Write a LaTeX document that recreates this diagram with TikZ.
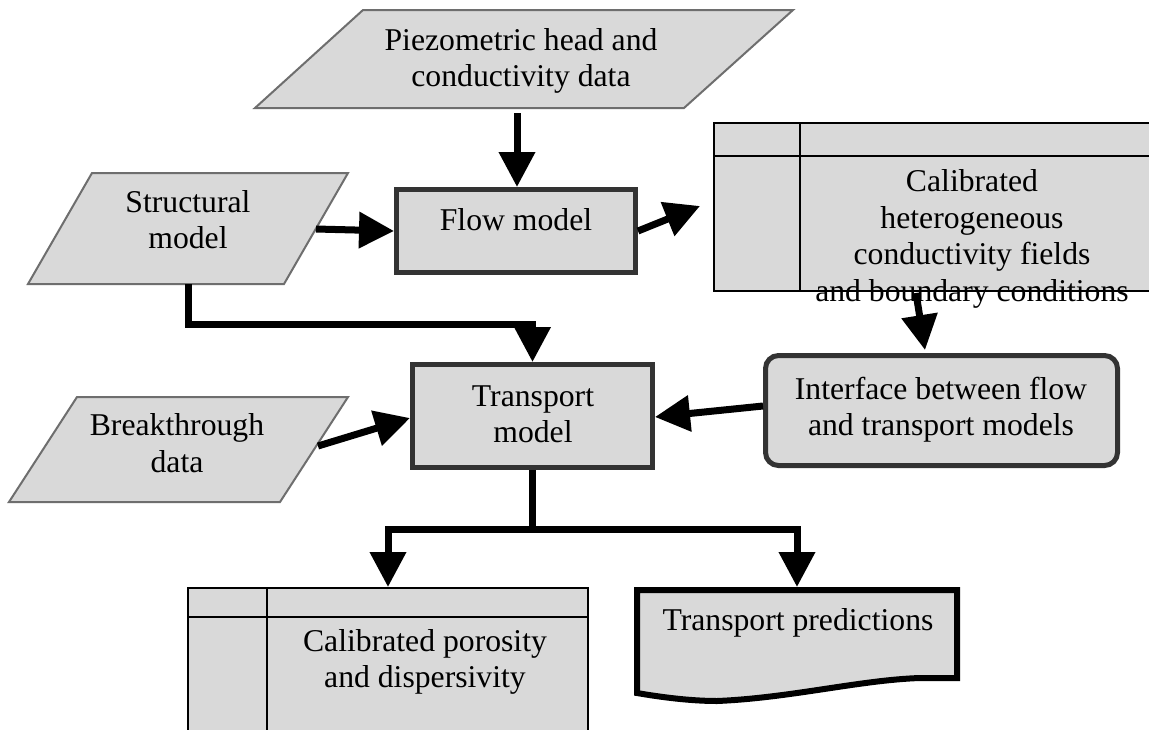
\documentclass[tikz,border=0pt]{standalone}
\usepackage{fontspec}
\setmainfont{Liberation Serif}
\usetikzlibrary{arrows.meta}
\definecolor{fillg}{HTML}{D9D9D9}
\definecolor{parag}{HTML}{6E6E6E}
\definecolor{procg}{HTML}{333333}
\begin{document}
\begin{tikzpicture}[x=1pt,y=-1pt,
  txt/.style={font=\fontsize{31.7pt}{36.6pt}\selectfont, align=center, inner sep=0pt},
  databox/.style={fill=fillg, draw=parag, line width=2pt, line join=miter},
  procbox/.style={rectangle, fill=fillg, draw=procg, line width=5pt, inner sep=0pt},
  tablebox/.style={rectangle, fill=fillg, draw=black, line width=2pt, inner sep=0pt},
  tabline/.style={draw=black, line width=2pt},
  docbox/.style={fill=fillg, draw=black, line width=6pt, line join=miter},
  conn/.style={line width=7pt, line join=miter, -{Triangle[width=35pt,length=35pt]}},
  plain/.style={line width=7pt, line join=miter}
  ]
\clip (0,0) rectangle (1149,729);
\fill[white] (0,0) rectangle (1149,729);

% data parallelograms
\draw[databox] (363,10) -- (793,10) -- (684,108) -- (255,108) -- cycle;
\draw[databox] (92,173) -- (348,173) -- (284,284) -- (28,284) -- cycle;
\draw[databox] (77,397) -- (348,397) -- (280,502) -- (9,502) -- cycle;

% process boxes
\node[procbox, minimum width=239pt, minimum height=83pt] (flow) at (516,231) {};
\node[procbox, minimum width=240pt, minimum height=103pt] (transport) at (532.5,416) {};
\node[procbox, rounded corners=13pt, minimum width=352pt, minimum height=110pt] (interface) at (941.5,410.5) {};

% stored data boxes
\node[tablebox, minimum width=446pt, minimum height=168pt] (calib) at (937,207) {};
\draw[tabline] (714,156) -- (1160,156);
\draw[tabline] (800,123) -- (800,291);
\node[tablebox, minimum width=400pt, minimum height=157pt] (poro) at (388,666.5) {};
\draw[tabline] (188,617) -- (588,617);
\draw[tabline] (267,588) -- (267,745);

% document shape
\draw[docbox] (637,590) -- (957,590) -- (957,678) -- (920,678)
  .. controls (860,680) and (790,698) .. (717,701)
  .. controls (690,701) and (660,697) .. (637,693) -- cycle;

% texts
\node[txt] (piezotxt) at (521,61.2) {\strut Piezometric head and\\\strut conductivity data};
\node[txt] (structtxt) at (188,223.2) {\strut Structural\\\strut model};
\node[txt] (flowtxt) at (516,222.7) {\strut Flow model};
\node[txt] (calibtxt) at (972,239.2) {\strut Calibrated\\\strut heterogeneous\\\strut conductivity fields\\\strut and boundary conditions};
\node[txt] (ifacetxt) at (941,410.2) {\strut Interface between flow\\\strut and transport models};
\node[txt] (breaktxt) at (177,446.7) {\strut Breakthrough\\\strut data};
\node[txt] (transtxt) at (533,417.2) {\strut Transport\\\strut model};
\node[txt] (porotxt) at (425,662.2) {\strut Calibrated porosity\\\strut and dispersivity};
\node[txt] (predtxt) at (798,622.7) {\strut Transport predictions};

% connector end points
\coordinate (piezoB) at (517,113);
\coordinate (structE) at (316,229);
\coordinate (structS) at (188,284);
\coordinate (j1) at (188,324);
\coordinate (calibIn) at (700,206);
\coordinate (calibS) at (916,293);
\coordinate (ifaceN) at (925,350);
\coordinate (ifaceW) at (763,406);
\coordinate (transE) at (655,417);
\coordinate (breakE) at (318,446);
\coordinate (transW) at (410,418);
\coordinate (j2) at (532.5,529);
\coordinate (predN) at (797,587);

% connectors
\draw[conn] (piezoB) -- (piezoB |- flow.north);
\draw[conn] (structE) -- (flow.west);
\draw[conn] (flow.east) -- (calibIn);
\draw[conn] (structS) -- (j1) -| (transport.north);
\draw[conn] (calibS) -- (ifaceN);
\draw[conn] (ifaceW) -- (transE);
\draw[conn] (breakE) -- (transW);
\draw[plain] (transport.south) -- (j2);
\draw[conn] (j2) -| (poro.north);
\draw[conn] (j2) -| (predN);
\end{tikzpicture}
\end{document}
